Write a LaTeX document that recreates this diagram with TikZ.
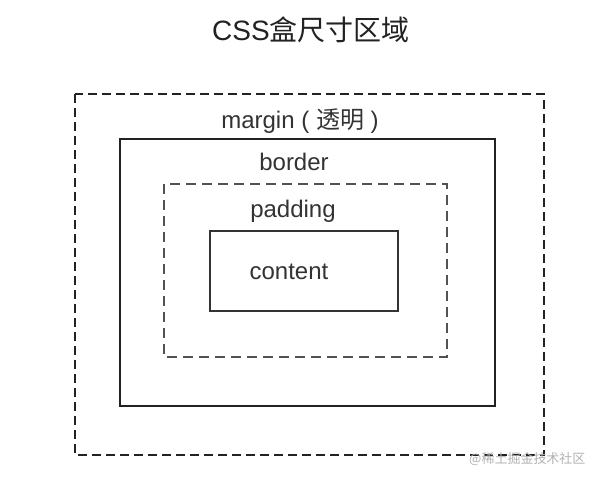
\documentclass[tikz,border=0pt]{standalone}
\usepackage{fontspec}
\setmainfont{Liberation Sans}
\newfontfamily\cjk{Noto Sans CJK SC}
\usetikzlibrary{positioning}
\definecolor{linecolor}{RGB}{34,34,34}
\definecolor{textcolor}{RGB}{51,51,51}

\begin{document}
\begin{tikzpicture}[
    x=1pt, y=-1pt,
    marginbox/.style={draw=linecolor, line width=2.6pt, dash pattern=on 9pt off 5pt},
    borderbox/.style={draw=linecolor, line width=2pt},
    paddingbox/.style={draw=textcolor!85, line width=1.6pt, dash pattern=on 10pt off 6pt},
    contentbox/.style={draw=textcolor, line width=1.5pt},
    label/.style={text=textcolor, font=\fontsize{24}{26}\selectfont, inner sep=0pt},
    title/.style={text=linecolor, font=\fontsize{28}{30}\selectfont, inner sep=0pt}
]
\useasboundingbox[fill=white] (0,0) rectangle (598,480);

% boxes, outside in
\draw[marginbox] (75,94) rectangle (544,455);
\draw[borderbox] (120,139) rectangle (495,406);
\draw[paddingbox] (164,184) rectangle (447,357);
\draw[contentbox] (210,231) rectangle (398,311);

% texts
\node[title] (heading) at (311,30) {CSS{\cjk 盒尺寸区域}};
\node[label] (marginlabel) at (300,121) {margin ( {\cjk 透明} )};
\node[label] (borderlabel) at (294,162) {border};
\node[label] (paddinglabel) at (293,211) {padding};
\node[label] (contentlabel) at (289,272) {content};
\node[text=gray!60, font=\fontsize{13}{14}\selectfont\cjk, anchor=west, inner sep=0pt] (watermark) at (469,459) {@稀土掘金技术社区};
\end{tikzpicture}
\end{document}
